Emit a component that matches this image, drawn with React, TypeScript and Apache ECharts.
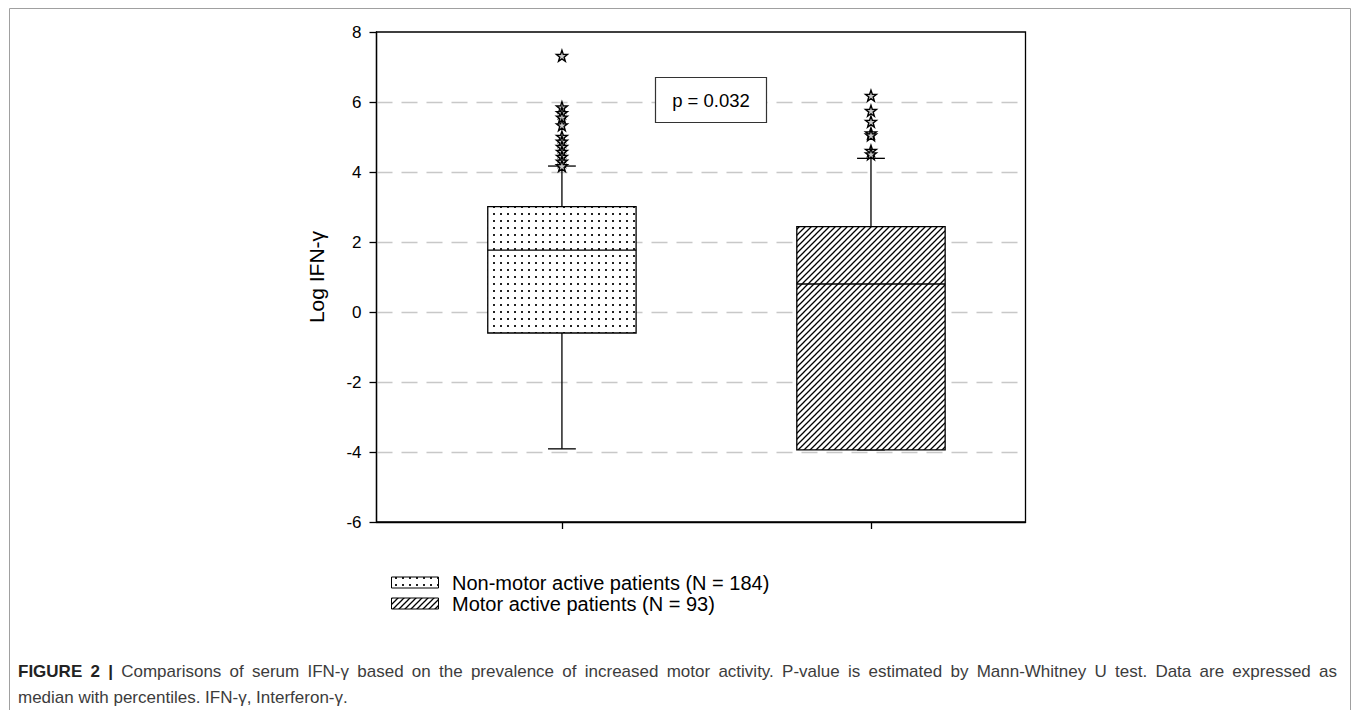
import React, { useEffect, useRef } from "react";
import * as echarts from "echarts";

// ---------------- data ----------------
const groupNames = ["Non-motor active patients (N = 184)", "Motor active patients (N = 93)"];
const groupPositions = [1, 2];
const lowerWhisker = [-3.91, -3.94];
const lowerQuartile = [-0.6, -3.94];
const medianValues = [1.77, 0.8];
const upperQuartile = [3.01, 2.44];
const upperWhisker = [4.17, 4.39];
const outliersGroup1 = [7.32, 5.85, 5.69, 5.56, 5.34, 5.01, 4.87, 4.72, 4.58, 4.44, 4.3, 4.17];
const outliersGroup2 = [6.18, 5.75, 5.44, 5.11, 5.05, 4.61, 4.51];
const yMin = -6;
const yMax = 8;
const yInterval = 2;
const yAxisTitle = "Log IFN-γ";
const pValueLabel = "p = 0.032";
const captionLine1 =
  "Comparisons of serum IFN-γ based on the prevalence of increased motor activity. P-value is estimated by Mann-Whitney U test. Data are expressed as";
const captionLine2 = "median with percentiles. IFN-γ, Interferon-γ.";
const captionLead = "FIGURE 2 |";

const FONT = '"Liberation Sans", Arial, Helvetica, sans-serif';
const STAR =
  "path://M0,-10 L2.35,-3.24 L9.51,-3.09 L3.8,1.24 L5.88,8.09 L0,4 L-5.88,8.09 L-3.8,1.24 L-9.51,-3.09 L-2.35,-3.24 Z";

function makeDotPattern() {
  const c = document.createElement("canvas");
  c.width = 7;
  c.height = 7;
  const g = c.getContext("2d")!;
  g.fillStyle = "#fff";
  g.fillRect(0, 0, 7, 7);
  g.fillStyle = "#222";
  g.fillRect(3, 3, 2, 2);
  return { image: c, repeat: "repeat", imageWidth: 7, imageHeight: 7 } as any;
}

function makeHatchPattern() {
  const s = 6;
  const c = document.createElement("canvas");
  c.width = s;
  c.height = s;
  const g = c.getContext("2d")!;
  g.fillStyle = "#fff";
  g.fillRect(0, 0, s, s);
  g.strokeStyle = "#000";
  g.lineWidth = 1.3;
  g.beginPath();
  g.moveTo(-1, s + 1);
  g.lineTo(s + 1, -1);
  g.moveTo(-2, 2);
  g.lineTo(2, -2);
  g.moveTo(s - 2, s + 2);
  g.lineTo(s + 2, s - 2);
  g.stroke();
  return { image: c, repeat: "repeat", imageWidth: s, imageHeight: s } as any;
}

export default function App() {
  const ref = useRef<HTMLDivElement>(null);

  useEffect(() => {
    document.body.style.margin = "0";
    const chart = echarts.init(ref.current!, null, { renderer: "svg" });
    const dots = makeDotPattern();
    const hatch = makeHatchPattern();
    const fills = [dots, hatch];

    const BOX_W = 0.48;
    const CAP_W = 0.09;

    const boxData = groupPositions.map((p, i) => [
      p,
      lowerWhisker[i],
      lowerQuartile[i],
      medianValues[i],
      upperQuartile[i],
      upperWhisker[i],
    ]);
    const outlierData = [
      ...outliersGroup1.map((v) => [groupPositions[0], v]),
      ...outliersGroup2.map((v) => [groupPositions[1], v]),
    ];

    // caption justification
    const capSize = 17;
    const mctx = document.createElement("canvas").getContext("2d")!;
    const measure = (t: string, bold: boolean) => {
      mctx.font = `${bold ? "bold " : ""}${capSize}px ${FONT}`;
      return mctx.measureText(t).width;
    };
    const words1 = [
      ...captionLead.split(" ").map((w) => ({ t: w, b: true })),
      ...captionLine1.split(" ").map((w) => ({ t: w, b: false })),
    ];
    const capLeft = 18;
    const capRight = 1337;
    const widths = words1.map((w) => measure(w.t, w.b));
    const total = widths.reduce((a, b) => a + b, 0);
    const gap = (capRight - capLeft - total) / (words1.length - 1);
    let cx = capLeft;
    const captionEls: any[] = words1.map((w, i) => {
      const el = {
        type: "text",
        x: cx,
        y: 671,
        style: {
          text: w.t,
          fontSize: capSize,
          fontFamily: FONT,
          fontWeight: w.b ? "bold" : "normal",
          fill: w.b ? "#222" : "#3c3c3c",
          verticalAlign: "middle",
          align: "left",
        },
      };
      cx += widths[i] + gap;
      return el;
    });
    captionEls.push({
      type: "text",
      x: capLeft,
      y: 697,
      style: {
        text: captionLine2,
        fontSize: capSize,
        fontFamily: FONT,
        fill: "#3c3c3c",
        verticalAlign: "middle",
        align: "left",
      },
    });

    const legendEls: any[] = groupNames.flatMap((name, i) => {
      const yc = 582.5 + i * 21;
      return [
        {
          type: "rect",
          shape: { x: 391.5, y: yc - 5.5, width: 47, height: 11 },
          style: { fill: fills[i], stroke: "#000", lineWidth: 1 },
        },
        {
          type: "text",
          x: 452,
          y: yc,
          style: {
            text: name,
            fontSize: 20,
            fontFamily: FONT,
            fill: "#000",
            verticalAlign: "middle",
            align: "left",
          },
        },
      ];
    });

    const option: any = {
      animation: false,
      backgroundColor: "#fff",
      grid: {
        left: 376.5,
        top: 32,
        right: 329.5,
        bottom: 188,
        show: true,
        borderColor: "#000",
        borderWidth: 1.3,
        backgroundColor: "transparent",
        outerBoundsMode: "none",
      },
      xAxis: {
        type: "value",
        min: 0.4,
        max: 2.5,
        axisLine: { show: true, onZero: false, lineStyle: { color: "#000", width: 1.3 } },
        axisTick: { show: true, customValues: groupPositions, length: 7, lineStyle: { color: "#000", width: 1.3 } },
        axisLabel: { show: false },
        splitLine: { show: false },
      },
      yAxis: {
        type: "value",
        min: yMin,
        max: yMax,
        interval: yInterval,
        name: yAxisTitle,
        nameLocation: "middle",
        nameGap: 50,
        nameTextStyle: { fontSize: 21, fontFamily: FONT, color: "#000" },
        axisLine: { show: true, lineStyle: { color: "#000", width: 1.3 } },
        axisTick: { show: true, length: 7, lineStyle: { color: "#000", width: 1.3 } },
        axisLabel: { fontSize: 17, fontFamily: FONT, color: "#000", margin: 15 },
        splitLine: {
          show: true,
          showMinLine: false,
          showMaxLine: false,
          lineStyle: { color: "#c8c8c8", width: 1.3, type: [16, 9] },
        },
      },
      series: [
        {
          type: "custom",
          data: boxData,
          z: 3,
          encode: { x: 0, y: [1, 2, 3, 4, 5] },
          renderItem: (params: any, api: any) => {
            const x = api.value(0);
            const pt = (v: number) => api.coord([x, v]);
            const lo = pt(api.value(1));
            const q1 = pt(api.value(2));
            const md = pt(api.value(3));
            const q3 = pt(api.value(4));
            const hi = pt(api.value(5));
            const bw = api.size([BOX_W, 0])[0];
            const cw = api.size([CAP_W, 0])[0];
            const c = q1[0];
            const ls = { stroke: "#000", lineWidth: 1.3 };
            return {
              type: "group",
              children: [
                { type: "line", shape: { x1: c, y1: hi[1], x2: c, y2: q3[1] }, style: ls },
                { type: "line", shape: { x1: c, y1: q1[1], x2: c, y2: lo[1] }, style: ls },
                { type: "line", shape: { x1: c - cw / 2, y1: hi[1], x2: c + cw / 2, y2: hi[1] }, style: ls },
                { type: "line", shape: { x1: c - cw / 2, y1: lo[1], x2: c + cw / 2, y2: lo[1] }, style: ls },
                {
                  type: "rect",
                  shape: { x: c - bw / 2, y: q3[1], width: bw, height: q1[1] - q3[1] },
                  style: { fill: fills[params.dataIndex], stroke: "#000", lineWidth: 1.3 },
                },
                { type: "line", shape: { x1: c - bw / 2, y1: md[1], x2: c + bw / 2, y2: md[1] }, style: ls },
              ],
            };
          },
        },
        {
          type: "scatter",
          data: outlierData,
          z: 5,
          symbol: STAR,
          symbolSize: 11,
          itemStyle: { color: "#c8c8c8", borderColor: "#000", borderWidth: 1.4, opacity: 1 },
        },
      ],
      graphic: [
        {
          type: "rect",
          z: -10,
          shape: { x: 9.5, y: 8.5, width: 1341, height: 800 },
          style: { fill: "none", stroke: "#a0a0a0", lineWidth: 1 },
        },
        {
          type: "rect",
          z: 10,
          shape: { x: 655.5, y: 77.5, width: 111, height: 45 },
          style: { fill: "#fff", stroke: "#333", lineWidth: 1.2 },
        },
        {
          type: "text",
          z: 11,
          x: 711,
          y: 100,
          style: {
            text: pValueLabel,
            fontSize: 18.5,
            fontFamily: FONT,
            fill: "#000",
            align: "center",
            verticalAlign: "middle",
          },
        },
        ...legendEls,
        ...captionEls,
      ],
    };
    chart.setOption(option);
    return () => chart.dispose();
  }, []);

  return <div ref={ref} style={{ width: 1355, height: 710 }} />;
}
